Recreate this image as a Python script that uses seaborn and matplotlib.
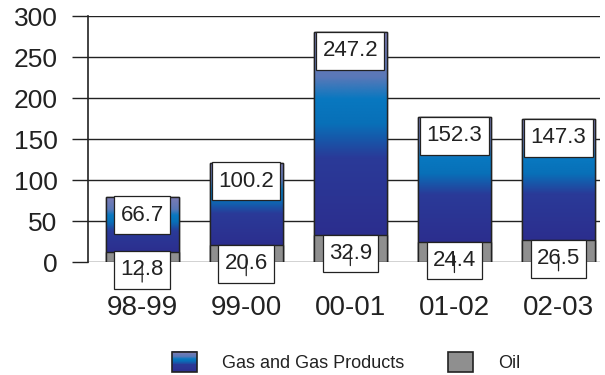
import numpy as np
import pandas as pd
import matplotlib
matplotlib.use("Agg")
import matplotlib.pyplot as plt
import seaborn as sns
from matplotlib.colors import LinearSegmentedColormap
from matplotlib.patches import Rectangle
from matplotlib.path import Path
from matplotlib.legend_handler import HandlerBase

# Annual volumes by product
years = ["98-99", "99-00", "00-01", "01-02", "02-03"]
gas = [66.7, 100.2, 247.2, 152.3, 147.3]
oil = [12.8, 20.6, 32.9, 24.4, 26.5]
y_ticks = [0, 50, 100, 150, 200, 250, 300]

df = pd.DataFrame({"year": years, "gas": gas, "oil": oil})
df["total"] = df["gas"] + df["oil"]

sns.set_theme(style="white")
plt.rcParams["font.family"] = ["Liberation Sans", "DejaVu Sans"]
plt.rcParams["text.color"] = "#222222"

gas_cmap = LinearSegmentedColormap.from_list(
    "gas", [(0.0, "#7c7cb4"), (0.22, "#5a78b8"), (0.33, "#0878c0"),
            (0.45, "#0870b8"), (0.62, "#2a3a98"), (1.0, "#2c2e8e")]
)
oil_color = "#8f8f8f"
edge = "#222222"


def label_box(x0, y0, width, height, mutation_size):
    """Rectangle around a value label, with a little more room above and below."""
    px = 0.28 * mutation_size
    py = 0.38 * mutation_size
    l, r = x0 - px, x0 + width + px
    b, t = y0 - py, y0 + height + py
    return Path([(l, b), (r, b), (r, t), (l, t), (l, b)],
                [Path.MOVETO, Path.LINETO, Path.LINETO, Path.LINETO, Path.CLOSEPOLY])


fig = plt.figure(figsize=(6.05, 3.75), dpi=100)
ax = fig.add_axes([0.1455, 0.3013, 0.8465, 0.656])

# total height bars (gas sits on top of oil), then oil on top of them
sns.barplot(data=df, x="year", y="total", order=years, color="#2c2c8c",
            width=0.70, edgecolor=edge, linewidth=1.0, saturation=1, ax=ax, zorder=2)
gas_patches = list(ax.patches)
sns.barplot(data=df, x="year", y="oil", order=years, color=oil_color,
            width=0.70, edgecolor=edge, linewidth=1.0, saturation=1, ax=ax, zorder=3)

grad = np.linspace(0, 1, 256).reshape(-1, 1)
for p, o, t in zip(gas_patches, df["oil"], df["total"]):
    x0 = p.get_x()
    x1 = x0 + p.get_width()
    im = ax.imshow(grad, cmap=gas_cmap, aspect="auto", origin="upper",
                   extent=[x0, x1, o, t], zorder=2.5, interpolation="bicubic")
    im.set_clip_path(p)
    # redraw outline on top of the gradient
    ax.add_patch(Rectangle((x0, 0), x1 - x0, t, fill=False, ec=edge, lw=1.0, zorder=2.6))

ax.set_xlim(-0.52, 4.40)
ax.set_ylim(0, 300)
ax.set_yticks(y_ticks)
ax.set_xlabel("")
ax.set_ylabel("")

for yv in y_ticks:
    ax.axhline(yv, color="#222222", lw=1.0, zorder=1)

for s in ["top", "right", "bottom"]:
    ax.spines[s].set_visible(False)
ax.spines["left"].set_color("#222222")
ax.spines["left"].set_linewidth(1.2)
ax.tick_params(axis="y", direction="out", length=11.5, width=1.0, color="#222222",
               pad=10.5, labelsize=19, labelcolor="#222222", left=True)
ax.tick_params(axis="x", length=0, pad=24, labelsize=20, labelcolor="#222222")

box = dict(boxstyle=label_box, fc="white", ec=edge, lw=0.9)
for i, (g, o, t) in enumerate(zip(df["gas"], df["oil"], df["total"])):
    ax.annotate(f"{g:.1f}", xy=(i, t), xytext=(0, -13.3), textcoords="offset points",
                ha="center", va="center", fontsize=16, bbox=box, zorder=5,
                annotation_clip=False)
    ax.annotate(f"{o:.1f}", xy=(i, o), xytext=(0, -13.3), textcoords="offset points",
                ha="center", va="center", fontsize=16, bbox=box, zorder=5,
                annotation_clip=False)
    ax.annotate("", xy=(i, o), xytext=(0, -22), textcoords="offset points",
                arrowprops=dict(arrowstyle="-", color=edge, lw=0.9, shrinkA=0, shrinkB=10),
                zorder=6, annotation_clip=False)


class GradientHandler(HandlerBase):
    def create_artists(self, legend, orig_handle, xdescent, ydescent,
                       width, height, fontsize, trans):
        n = 24
        arts = []
        for k in range(n):
            c = gas_cmap(1 - (k + 0.5) / n)
            arts.append(Rectangle((-xdescent, -ydescent + height * k / n), width,
                                  height / n + 0.3, fc=c, ec="none", transform=trans))
        arts.append(Rectangle((-xdescent, -ydescent), width, height, fill=False,
                              ec=edge, lw=1.2, transform=trans))
        return arts


gas_handle = Rectangle((0, 0), 1, 1)
oil_handle = Rectangle((0, 0), 1, 1, fc=oil_color, ec=edge, lw=1.2)
fig.legend([gas_handle, oil_handle], ["Gas and Gas Products", "Oil"],
           handler_map={gas_handle: GradientHandler()},
           loc="center", bbox_to_anchor=(0.572, 0.035), ncol=2, frameon=False,
           fontsize=13, handlelength=1.4, handleheight=1.33, handletextpad=1.4,
           columnspacing=2.4)

fig.savefig("out.png", dpi=100)
